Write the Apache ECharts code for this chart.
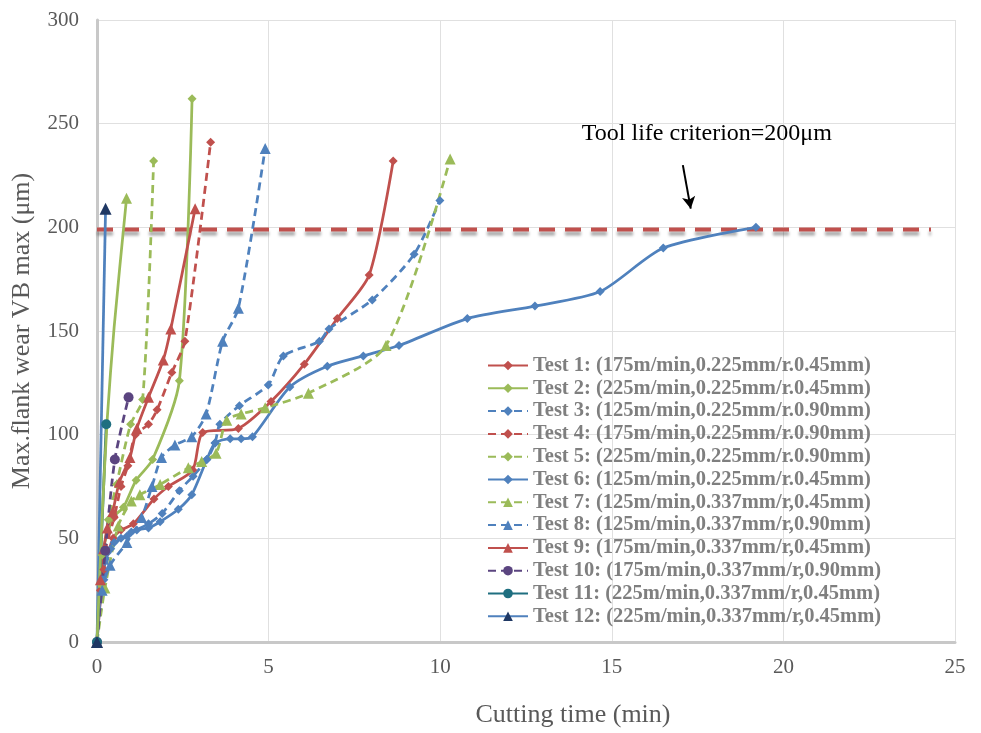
<!DOCTYPE html>
<html><head><meta charset="utf-8">
<script src="https://cdn.jsdelivr.net/npm/echarts@6/dist/echarts.min.js"></script>
<style>html,body{margin:0;padding:0;background:#fff}#c{width:981px;height:733px}</style>
</head><body><div id="c"></div>
<script>
const xTicks = [0,5,10,15,20,25];
const yTicks = [0,50,100,150,200,250,300];
const test1 = [[0,0],[0.2,35],[0.47,50],[0.7,54],[1.06,57],[1.66,69],[2.08,75],[2.79,83],[3.08,101],[4.12,103],[5.07,116],[6.04,134],[7.0,156],[7.93,177],[8.63,232]];
const test2 = [[0,0],[0.15,42],[0.47,60],[0.77,65],[1.14,78],[1.62,88],[2.4,126],[2.77,262]];
const test3 = [[0,0],[0.2,30],[0.4,45],[0.7,50],[1.0,53],[1.5,57],[1.9,62],[2.4,73],[2.8,80],[3.2,88],[3.44,96],[3.58,105],[4.15,114],[4.99,124],[5.43,138],[6.48,145],[6.76,151],[8.02,165],[9.24,187],[9.99,213]];
const test4 = [[0,0],[0.1,25],[0.25,45],[0.5,60],[0.7,75],[0.9,85],[1.12,100],[1.5,105],[1.75,112],[2.18,130],[2.56,145],[3.31,241]];
const test5 = [[0,0],[0.1,28],[0.33,59],[0.57,76],[0.98,105],[1.33,117],[1.65,232]];
const test6 = [[0,0],[0.15,30],[0.3,43],[0.5,48],[0.87,51],[1.16,54],[1.5,55],[1.84,58],[2.37,64],[2.76,71],[3.2,88],[3.44,96],[3.88,98],[4.2,98],[4.53,99],[5.62,123],[6.71,133],[7.76,138],[8.8,143],[10.79,156],[12.76,162],[14.66,169],[16.5,190],[19.2,200]];
const test7 = [[0,0],[0.23,26],[0.62,56],[1.0,68],[1.25,71],[1.84,76],[2.66,84],[3.05,87],[3.47,91],[3.78,107],[4.2,110],[4.9,113],[6.16,120],[8.42,143],[10.29,233]];
const test8 = [[0,0],[0.15,25],[0.38,37],[0.87,48],[1.3,60],[1.6,75],[1.88,89],[2.27,95],[2.76,99],[3.18,110],[3.66,145],[4.12,161],[4.9,238]];
const test9 = [[0,0],[0.1,30],[0.2,45],[0.3,55],[0.46,63],[0.65,77],[0.96,89],[1.16,103],[1.5,118],[1.93,136],[2.15,151],[2.86,209]];
const test10 = [[0,0],[0.24,44],[0.52,88],[0.92,118]];
const test11 = [[0,0],[0.27,105]];
const test12 = [[0,0],[0.25,209]];
const extraGreen = [[0,0],[0.15,60],[0.3,108],[0.5,152],[0.86,214]];
const criterion = [[0,199],[24.3,199]];
const names = [
 'Test 1: (175m/min,0.225mm/r.0.45mm)',
 'Test 2: (225m/min,0.225mm/r.0.45mm)',
 'Test 3: (125m/min,0.225mm/r.0.90mm)',
 'Test 4: (175m/min,0.225mm/r.0.90mm)',
 'Test 5: (225m/min,0.225mm/r.0.90mm)',
 'Test 6: (125m/min,0.225mm/r.0.45mm)',
 'Test 7: (125m/min,0.337mm/r,0.45mm)',
 'Test 8: (125m/min,0.337mm/r,0.90mm)',
 'Test 9: (175m/min,0.337mm/r,0.45mm)',
 'Test 10: (175m/min,0.337mm/r,0.90mm)',
 'Test 11: (225m/min,0.337mm/r,0.45mm)',
 'Test 12: (225m/min,0.337mm/r,0.45mm)'
];
const RED='#c0504d', GREEN='#9bbb59', BLUE='#4f81bd', PURPLE='#5b4580', TEAL='#1f6f80', NAVY='#1f3864';
function mk(name, data, color, dashed, symbol, symColor, size){
  return {name, type:'line', data, smooth:0.25, symbol, symbolSize:size||9,
    itemStyle:{color:symColor||color},
    lineStyle:{color, width:2.75, type: dashed?[8,5]:'solid'},
    z: 3};
}
const series = [
  mk(names[0], test1, RED, false, 'diamond'),
  mk(names[1], test2, GREEN, false, 'diamond'),
  mk(names[2], test3, BLUE, true, 'diamond'),
  mk(names[3], test4, RED, true, 'diamond'),
  mk(names[4], test5, GREEN, true, 'diamond'),
  mk(names[5], test6, BLUE, false, 'diamond'),
  mk(names[6], test7, GREEN, true, 'triangle', null, 11),
  mk(names[7], test8, BLUE, true, 'triangle', null, 11),
  mk(names[8], test9, RED, false, 'triangle', null, 11),
  mk(names[9], test10, PURPLE, true, 'circle', null, 10),
  mk(names[10], test11, TEAL, false, 'circle', null, 10),
  mk(names[11], test12, BLUE, false, 'triangle', NAVY, 12),
  {name:'extra', type:'line', smooth:0.25, symbol:'none',
   data: extraGreen.map((p,i)=> i===extraGreen.length-1 ? {value:p, symbol:'triangle', symbolSize:11} : p),
   itemStyle:{color:GREEN}, lineStyle:{color:GREEN, width:2.75}, z:3},
  {name:'criterion', type:'line', data:criterion, symbol:'none', silent:true, z:2,
   lineStyle:{color:RED, width:4, type:[16,10], shadowColor:'rgba(0,0,0,0.35)', shadowBlur:3, shadowOffsetY:4},
   markLine:{silent:true, symbol:['none','arrow'], symbolSize:[10,12],
     lineStyle:{color:'#000', width:2, type:'solid', shadowBlur:0, shadowOffsetY:0},
     label:{show:false},
     data:[[{coord:[17.07,230]},{coord:[17.3,209]}]]},
   markPoint:{silent:true, symbol:'circle', symbolSize:0,
     label:{show:true, formatter:'Tool life criterion=200μm', color:'#000', fontFamily:'Liberation Serif', fontSize:24},
     data:[{coord:[17.77,245]}]}}
];
const chart = echarts.init(document.getElementById('c'), null, {renderer:'canvas'});
chart.setOption({
  animation:false,
  backgroundColor:'#fff',
  grid:{left:97, right:26, top:20, bottom:89, containLabel:false},
  legend:{data:names, orient:'vertical', left:482, top:350, itemWidth:40, itemHeight:12, itemGap:1.8,
    textStyle:{fontFamily:'Liberation Serif', fontWeight:'bold', fontSize:20.5, color:'#7f7f7f', lineHeight:20.5}},
  xAxis:{type:'value', min:0, max:25, interval:5,
    name:'Cutting time (min)', nameLocation:'middle', nameGap:60,
    nameTextStyle:{fontFamily:'Liberation Serif', fontSize:26, color:'#595959', padding:[0,0,0,94]},
    axisLine:{show:true, lineStyle:{color:'#c8c8c8', width:3}}, axisTick:{show:false},
    axisLabel:{fontFamily:'Liberation Serif', fontSize:21, color:'#595959', margin:15},
    splitLine:{show:true, lineStyle:{color:'#e0e0e0', width:1}}},
  yAxis:{type:'value', min:0, max:300, interval:50,
    name:'Max.flank wear VB max (μm)', nameLocation:'middle', nameGap:62, nameRotate:90,
    nameTextStyle:{fontFamily:'Liberation Serif', fontSize:26, color:'#595959'},
    axisLine:{show:true, lineStyle:{color:'#c8c8c8', width:3}}, axisTick:{show:false},
    axisLabel:{fontFamily:'Liberation Serif', fontSize:21, color:'#595959', margin:18},
    splitLine:{show:true, lineStyle:{color:'#e0e0e0', width:1}}},
  series
});
</script></body></html>
